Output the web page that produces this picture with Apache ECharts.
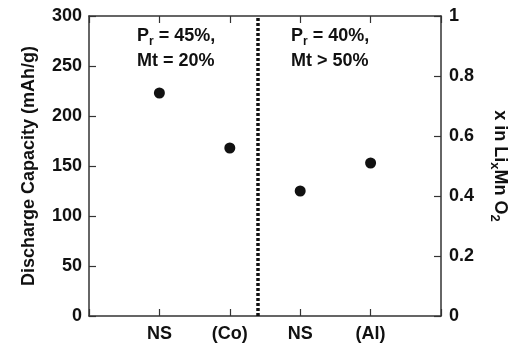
<!DOCTYPE html>
<html>
<head>
<meta charset="utf-8">
<script src="https://cdn.jsdelivr.net/npm/echarts@6/dist/echarts.min.js"></script>
<style>
  html, body { margin: 0; padding: 0; background: #fff; }
  #chart { width: 517px; height: 347px; }
</style>
</head>
<body>
<div id="chart"></div>
<script>
// sample labels and their x slot (value axis 0..5)
var categories = ["NS", "(Co)", "NS", "(Al)"];
var positions = [1, 2, 3, 4];
// discharge capacity (mAh/g)
var capacity = [223, 168, 125, 153];
var dividerX = 2.4;

var font = "Liberation Sans, Arial, Helvetica, sans-serif";
var axisColor = "#333";
var tick = { show: true, inside: true, length: 7, lineStyle: { color: axisColor, width: 1.2 } };
var line = { show: true, onZero: false, lineStyle: { color: axisColor, width: 1.5 } };
var labelStyle = { color: "#111", fontWeight: "bold", fontSize: 18, fontFamily: font };

var myChart = echarts.init(document.getElementById("chart"));

var points = positions.map(function (p, i) {
  return [p, capacity[i]];
});

var option = {
  animation: false,
  textStyle: { fontFamily: font },
  grid: { left: 89, right: 75, top: 16, bottom: 31 },
  xAxis: [
    {
      type: "value",
      min: 0,
      max: 5,
      interval: 1,
      position: "bottom",
      axisLine: line,
      axisTick: tick,
      axisLabel: Object.assign({}, labelStyle, {
        margin: 9,
        formatter: function (v) {
          var i = positions.indexOf(v);
          return i >= 0 ? categories[i] : "";
        },
      }),
      splitLine: { show: false },
    },
    {
      type: "value",
      min: 0,
      max: 5,
      interval: 1,
      position: "top",
      axisLine: line,
      axisTick: tick,
      axisLabel: { show: false },
      splitLine: { show: false },
    },
  ],
  yAxis: [
    {
      type: "value",
      min: 0,
      max: 300,
      interval: 50,
      position: "left",
      name: "Discharge Capacity (mAh/g)",
      nameLocation: "middle",
      nameGap: 51,
      nameTextStyle: labelStyle,
      axisLine: line,
      axisTick: tick,
      axisLabel: Object.assign({}, labelStyle, { margin: 7 }),
      splitLine: { show: false },
    },
    {
      type: "value",
      min: 0,
      max: 1,
      interval: 0.2,
      position: "right",
      name: "{a|x in Li}{s|x}{a|Mn O}{s|2}",
      nameLocation: "middle",
      nameRotate: -90,
      nameGap: 47,
      nameTextStyle: {
        color: "#111",
        rich: {
          a: { fontWeight: "bold", fontSize: 18, fontFamily: font, color: "#111", lineHeight: 24, verticalAlign: "middle" },
          s: { fontWeight: "bold", fontSize: 13, fontFamily: font, color: "#111", padding: [11, 0, 0, 0], verticalAlign: "middle" },
        },
      },
      axisLine: line,
      axisTick: tick,
      axisLabel: Object.assign({}, labelStyle, { margin: 8 }),
      splitLine: { show: false },
    },
  ],
  series: [
    {
      type: "scatter",
      xAxisIndex: 0,
      yAxisIndex: 0,
      data: points,
      symbol: "circle",
      symbolSize: 11,
      itemStyle: { color: "#111", opacity: 1 },
      markLine: {
        silent: true,
        symbol: "none",
        label: { show: false },
        lineStyle: { color: "#111", type: [3, 2], width: 3.5, opacity: 1 },
        data: [{ xAxis: dividerX }],
      },
    },
  ],
  graphic: [
    {
      type: "text",
      left: 137,
      top: 27,
      style: {
        text: "{a|P}{s|r}{a| = 45%,}\n{a|Mt = 20%}",
        rich: {
          a: { fontWeight: "bold", fontSize: 18, fontFamily: font, fill: "#111", lineHeight: 25 },
          s: { fontWeight: "bold", fontSize: 12, fontFamily: font, fill: "#111", padding: [11, 0, 0, 0] },
        },
      },
    },
    {
      type: "text",
      left: 291,
      top: 27,
      style: {
        text: "{a|P}{s|r}{a| = 40%,}\n{a|Mt > 50%}",
        rich: {
          a: { fontWeight: "bold", fontSize: 18, fontFamily: font, fill: "#111", lineHeight: 25 },
          s: { fontWeight: "bold", fontSize: 12, fontFamily: font, fill: "#111", padding: [11, 0, 0, 0] },
        },
      },
    },
  ],
};

myChart.setOption(option);
window.addEventListener("resize", () => {
  myChart.resize();
});
</script>
</body>
</html>
